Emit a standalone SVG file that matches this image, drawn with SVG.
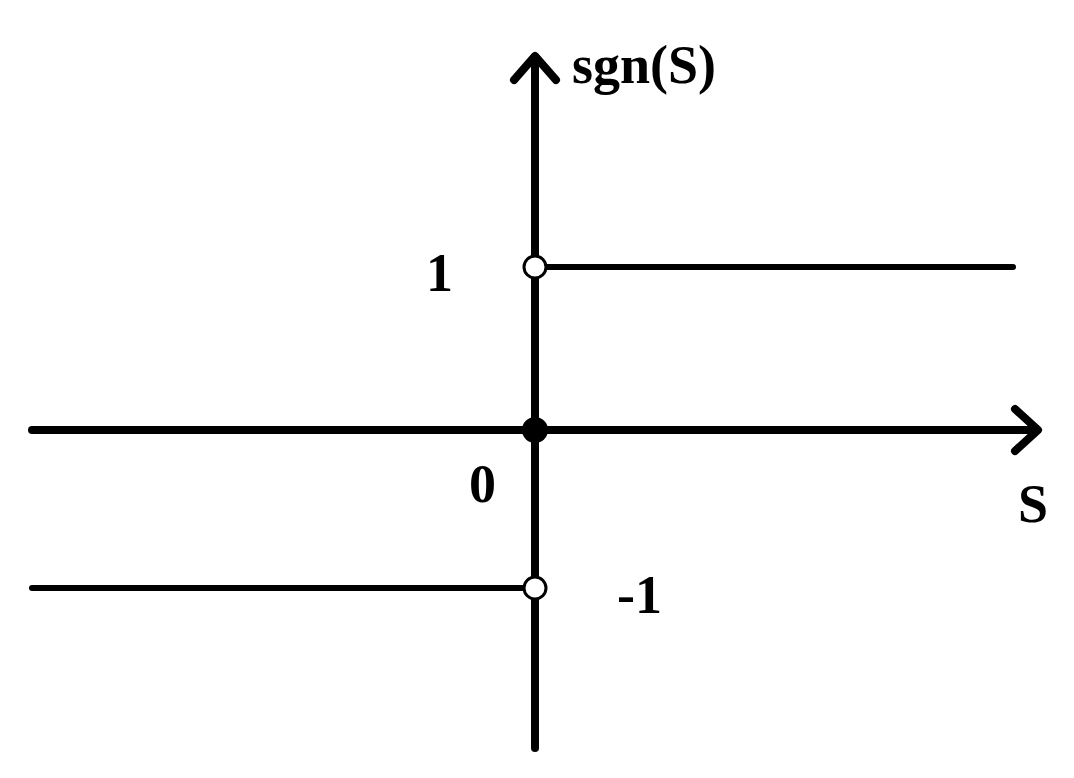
<svg xmlns="http://www.w3.org/2000/svg" width="1074" height="778" viewBox="0 0 1074 778">
<style>
.ax{stroke:#000;stroke-width:8;fill:none;stroke-linecap:round;stroke-linejoin:round}
.st{stroke:#000;stroke-width:6;fill:none;stroke-linecap:round}
text{font-family:"Liberation Serif",serif;font-weight:bold;font-size:54px;fill:#000}
</style>
<rect width="1074" height="778" fill="#fff"/>
<line class="ax" x1="535" y1="748" x2="535" y2="58"/>
<polyline class="ax" points="514,80 535,56 556,80"/>
<line class="ax" x1="32" y1="430" x2="1036" y2="430"/>
<polyline class="ax" points="1015,409 1038,430 1015,451"/>
<line class="st" x1="546" y1="267" x2="1013" y2="267"/>
<line class="st" x1="32" y1="588" x2="524" y2="588"/>
<circle cx="535" cy="267" r="11" fill="#fff" stroke="#000" stroke-width="3"/>
<circle cx="535" cy="588" r="11" fill="#fff" stroke="#000" stroke-width="3"/>
<circle cx="535" cy="430" r="13" fill="#000"/>
<text x="572" y="83">sgn(S)</text>
<text x="426" y="291">1</text>
<text x="469" y="502">0</text>
<text x="1018" y="522">S</text>
<text x="617" y="613">-1</text>
</svg>
